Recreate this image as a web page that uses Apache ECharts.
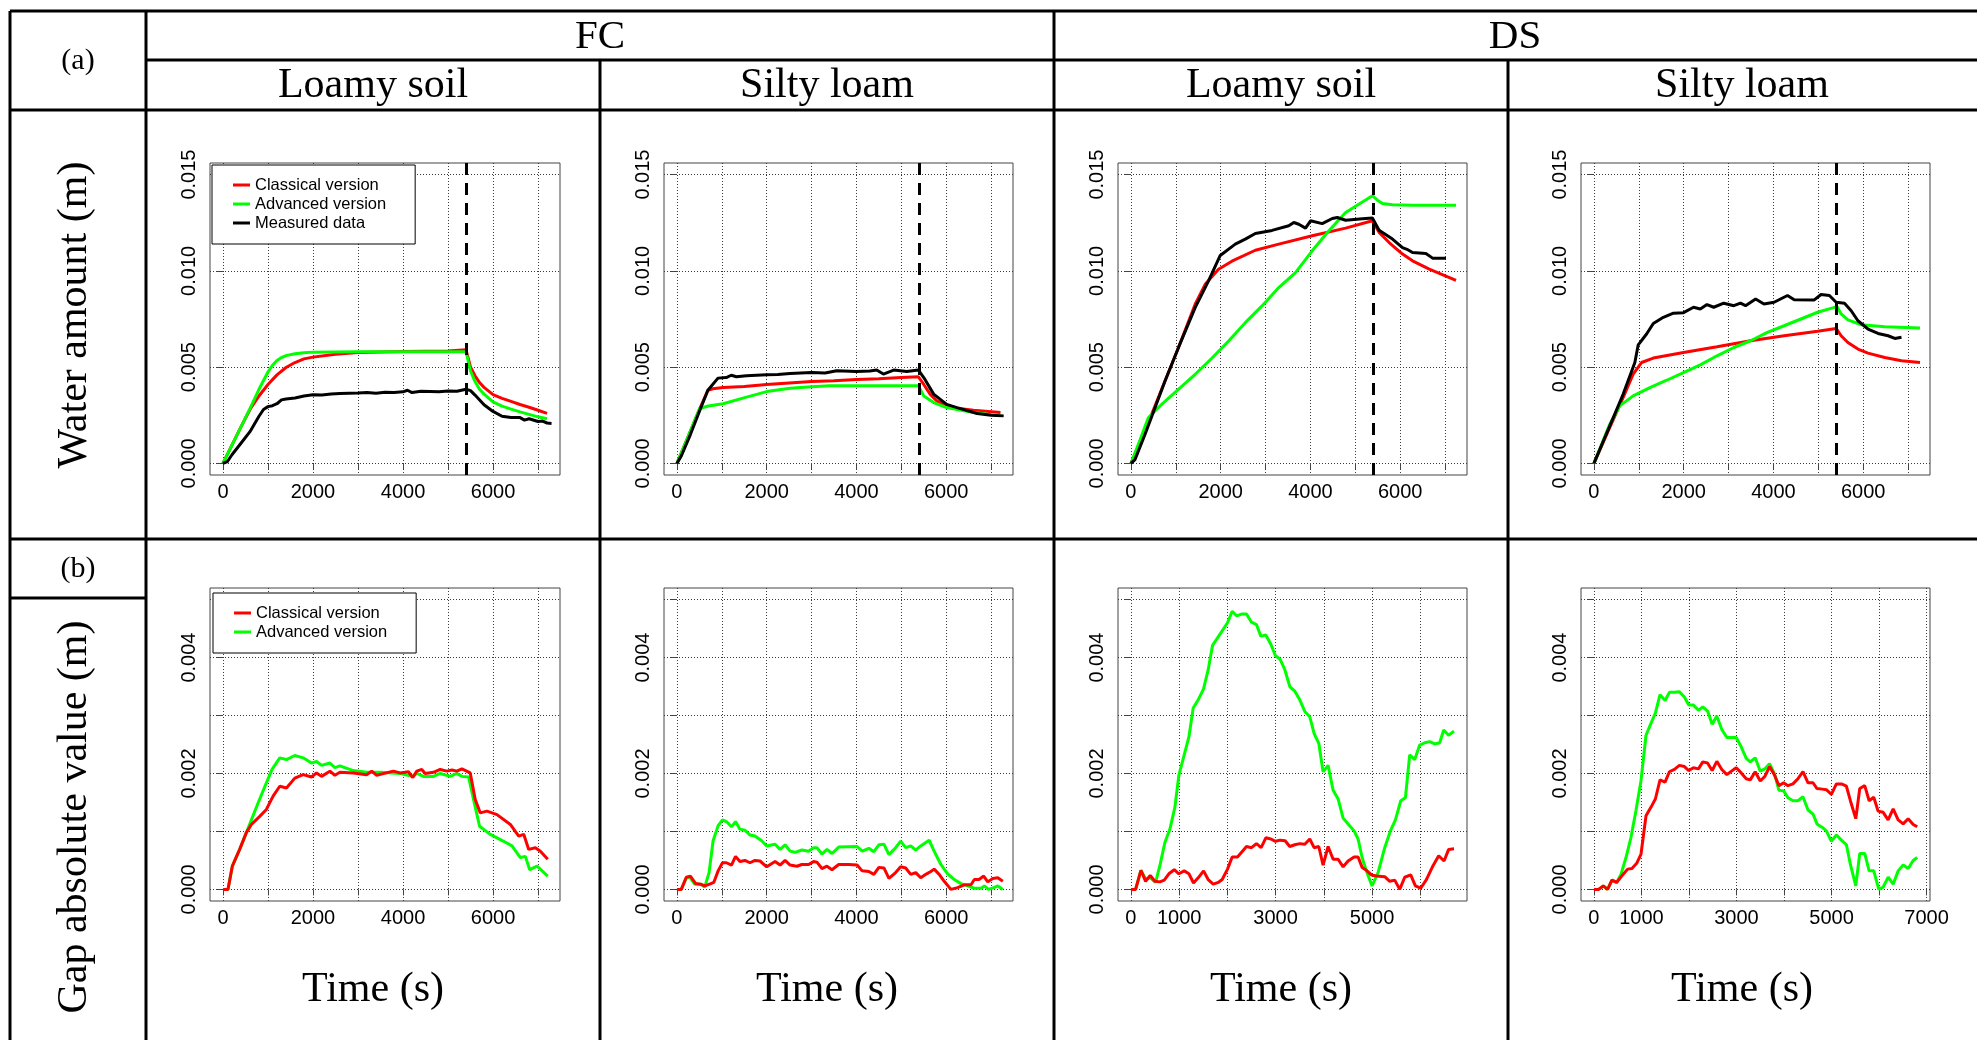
<!DOCTYPE html>
<html>
<head>
<meta charset="utf-8">
<title>Water amount and gap, FC / DS</title>
<script src="https://cdn.jsdelivr.net/npm/echarts@6/dist/echarts.min.js"></script>
<style>
  html, body { margin: 0; padding: 0; background: #fff; }
  #chart { width: 1977px; height: 1040px; }
</style>
</head>
<body>
<div id="chart"></div>
<script>
// ---------- series names and tick labels ----------
const seriesNames = ['Classical version', 'Advanced version', 'Measured data'];
const groupTitles = ['FC', 'DS'];
const soilTitles = ['Loamy soil', 'Silty loam', 'Loamy soil', 'Silty loam'];
const rowTags = ['(a)', '(b)'];
const rowTitles = ['Water amount (m)', 'Gap absolute value (m)'];
const timeTitle = 'Time (s)';

const timeTicks = [0, 1000, 2000, 3000, 4000, 5000, 6000, 7000];
const timeLabelsEven = [0, 2000, 4000, 6000];
const timeLabelsOdd = [0, 1000, 3000, 5000];
const timeLabelsOddTo7000 = [0, 1000, 3000, 5000, 7000];
const waterTicks = [0, 0.005, 0.010, 0.015];
const gapTicks = [0, 0.001, 0.002, 0.003, 0.004, 0.005];
const gapLabels = [0, 0.002, 0.004];

// time at which the water supply stops (s)
const shutoffTime = 5400;

// ---------- (a) water amount, [time s, water m] ----------
const fcLoamyClassical = [[0,0],[200,0.00095],[400,0.0019],[600,0.0028],[800,0.0035],[1000,0.0041],[1200,0.0046],[1400,0.00498],[1600,0.00524],[1800,0.00543],[2000,0.00552],[2500,0.00567],[3000,0.00576],[4000,0.00581],[5000,0.00584],[5400,0.0059],[5500,0.0050],[5600,0.00455],[5700,0.0042],[5800,0.00395],[6000,0.00357],[6200,0.00338],[6400,0.00322],[6600,0.00306],[6800,0.00292],[7000,0.00276],[7200,0.0026]];
const fcLoamyAdvanced = [[0,0],[200,0.00095],[400,0.0019],[600,0.00285],[800,0.00385],[1000,0.00475],[1100,0.0051],[1200,0.00535],[1300,0.0055],[1400,0.0056],[1600,0.0057],[1800,0.00575],[2000,0.00578],[3000,0.0058],[4000,0.0058],[5000,0.0058],[5400,0.0058],[5500,0.0048],[5600,0.00425],[5700,0.00385],[5800,0.0036],[6000,0.0032],[6200,0.00298],[6400,0.00282],[6600,0.00268],[6800,0.00255],[7000,0.00242],[7200,0.00232]];
const fcLoamyMeasured = [[0,0],[100,0.0001],[200,0.00045],[400,0.00105],[600,0.00165],[800,0.00245],[900,0.0028],[1000,0.00295],[1100,0.003],[1200,0.0031],[1300,0.0033],[1400,0.00335],[1600,0.0034],[1800,0.0035],[2000,0.00357],[2200,0.00355],[2400,0.0036],[2600,0.00363],[2800,0.00365],[3000,0.00366],[3200,0.00368],[3400,0.00365],[3600,0.0037],[3800,0.00368],[4000,0.00372],[4100,0.0038],[4200,0.00368],[4400,0.00375],[4600,0.00374],[4800,0.00372],[5000,0.00376],[5200,0.00375],[5400,0.00385],[5500,0.00378],[5600,0.00355],[5800,0.00305],[6000,0.0027],[6200,0.00245],[6400,0.00238],[6600,0.00238],[6700,0.00225],[6800,0.00232],[7000,0.00218],[7100,0.0022],[7200,0.0021],[7300,0.00208]];

const fcSiltyClassical = [[0,0],[250,0.0014],[500,0.0028],[690,0.0038],[800,0.00388],[1030,0.00394],[1500,0.0040],[2000,0.0041],[2500,0.00418],[3000,0.00425],[3500,0.0043],[4000,0.00436],[4500,0.0044],[5000,0.00446],[5380,0.0045],[5500,0.0041],[5640,0.0036],[5790,0.00325],[6010,0.003],[6240,0.00286],[6610,0.00276],[7210,0.00264]];
const fcSiltyAdvanced = [[0,0],[250,0.0014],[505,0.00285],[700,0.00298],[1030,0.0031],[1510,0.00342],[2000,0.00373],[2520,0.0039],[3000,0.00398],[3400,0.00403],[4000,0.00403],[5380,0.00403],[5500,0.0035],[5720,0.00316],[6010,0.0029],[6610,0.00264],[7210,0.00247]];
const fcSiltyMeasured = [[0,0],[100,0.0004],[300,0.0015],[500,0.0027],[690,0.0038],[915,0.00443],[1100,0.00446],[1210,0.00458],[1325,0.0045],[1550,0.00455],[2000,0.0046],[2250,0.00462],[2520,0.00467],[3000,0.00472],[3300,0.0047],[3560,0.00481],[4000,0.00477],[4300,0.0048],[4450,0.00485],[4600,0.00464],[4830,0.00485],[5120,0.00477],[5380,0.00485],[5500,0.00446],[5720,0.0036],[6010,0.00307],[6240,0.0029],[6690,0.00259],[7000,0.0025],[7280,0.00247]];

const dsLoamyClassical = [[0,0],[313,0.00168],[685,0.00385],[1058,0.00601],[1431,0.00827],[1654,0.0093],[1952,0.01008],[2250,0.0105],[2772,0.01107],[3294,0.01139],[4039,0.01182],[4784,0.01222],[5380,0.0126],[5529,0.012],[5753,0.01147],[6051,0.01087],[6274,0.01052],[6647,0.01009],[7243,0.00951]];
const dsLoamyAdvanced = [[0,0],[200,0.0012],[387,0.00237],[685,0.00307],[1058,0.00385],[1431,0.00463],[1803,0.00546],[2176,0.00636],[2548,0.00731],[2921,0.00818],[3294,0.00913],[3666,0.00991],[4039,0.01104],[4411,0.01208],[4784,0.01303],[5380,0.0139],[5492,0.01367],[5604,0.0135],[5827,0.01343],[6274,0.0134],[7243,0.0134]];
const dsLoamyMeasured = [[0,0],[90,0.0002],[313,0.0015],[760,0.00428],[1058,0.00601],[1431,0.00809],[1729,0.00948],[1990,0.0108],[2325,0.01139],[2548,0.01165],[2772,0.01194],[3144,0.0121],[3517,0.01234],[3629,0.01251],[3740,0.01242],[3890,0.01222],[4002,0.0126],[4262,0.01245],[4486,0.01272],[4598,0.01277],[4784,0.01263],[5157,0.0127],[5380,0.01274],[5529,0.01211],[5827,0.01165],[6051,0.01121],[6150,0.01112],[6274,0.01095],[6572,0.0109],[6721,0.01066],[7019,0.01066]];

const dsSiltyClassical = [[0,0],[351,0.00186],[650,0.00342],[874,0.00464],[1061,0.00524],[1323,0.00547],[1996,0.00576],[2743,0.00606],[3490,0.00637],[4238,0.00663],[4985,0.00686],[5396,0.00701],[5508,0.00663],[5658,0.00628],[5882,0.00594],[6106,0.00573],[6480,0.0055],[6853,0.00533],[7265,0.00524]];
const dsSiltyAdvanced = [[0,0],[351,0.00203],[575,0.00299],[874,0.00351],[1248,0.00394],[1622,0.00432],[1996,0.00472],[2370,0.00512],[2743,0.00559],[3117,0.00602],[3490,0.00637],[3864,0.00681],[4238,0.00715],[4611,0.0075],[4985,0.00785],[5418,0.00814],[5508,0.00776],[5658,0.00745],[5957,0.0072],[6480,0.0071],[7265,0.00703]];
const dsSiltyMeasured = [[0,0],[351,0.00194],[650,0.00359],[912,0.00524],[987,0.00616],[1173,0.00672],[1323,0.00727],[1547,0.00759],[1771,0.0078],[1996,0.00783],[2220,0.00811],[2370,0.00802],[2519,0.00825],[2670,0.00811],[2892,0.00832],[3117,0.00819],[3266,0.00832],[3378,0.00819],[3602,0.00854],[3789,0.00828],[4014,0.00837],[4313,0.00872],[4462,0.0085],[4910,0.00849],[5060,0.00877],[5247,0.00872],[5396,0.00837],[5583,0.00832],[5732,0.00793],[5882,0.00741],[6106,0.00698],[6330,0.00675],[6554,0.00663],[6704,0.00649],[6853,0.00655]];

// ---------- (b) gap absolute value, [time s, gap m] ----------
const fcLoamyGapClassical = [[0,0],[111,0],[208,0.0004],[371,0.00069],[520,0.00098],[631,0.00112],[817,0.00126],[965,0.00138],[1114,0.00161],[1262,0.00178],[1411,0.00175],[1596,0.00192],[1782,0.00198],[1967,0.00194],[2079,0.00201],[2190,0.00195],[2376,0.00204],[2487,0.00197],[2598,0.00202],[2895,0.00201],[3192,0.00198],[3304,0.00204],[3415,0.00197],[3786,0.00204],[3935,0.00201],[4120,0.00203],[4217,0.00193],[4306,0.00204],[4417,0.00207],[4491,0.002],[4677,0.00202],[4826,0.00207],[4974,0.00204],[5085,0.00206],[5197,0.00204],[5308,0.00208],[5494,0.00201],[5605,0.00155],[5716,0.00132],[5865,0.00135],[6088,0.00129],[6385,0.00112],[6570,0.00092],[6682,0.00095],[6793,0.00069],[6941,0.00072],[7052,0.00066],[7216,0.00052]];
const fcLoamyGapAdvanced = [[0,0],[111,0],[208,0.0004],[371,0.00069],[520,0.00098],[780,0.00149],[965,0.00184],[1091,0.00207],[1262,0.00227],[1411,0.00224],[1596,0.00231],[1782,0.00227],[1967,0.00218],[2079,0.00221],[2190,0.00214],[2376,0.00218],[2487,0.0021],[2598,0.00213],[2895,0.00205],[3192,0.00202],[3490,0.00202],[3935,0.002],[4217,0.00195],[4306,0.002],[4454,0.00195],[4677,0.00195],[4826,0.002],[5048,0.00195],[5197,0.002],[5308,0.00195],[5457,0.00194],[5568,0.00155],[5701,0.00109],[5939,0.00095],[6236,0.00083],[6422,0.00075],[6607,0.00055],[6719,0.00057],[6815,0.00034],[6978,0.0004],[7216,0.00023]];

const fcSiltyGapClassical = [[0,0],[97,0],[209,0.00021],[299,0.00023],[418,0.0001],[530,0.00009],[619,0.00006],[731,0.00009],[821,0.00012],[918,0.00032],[1015,0.00046],[1104,0.00046],[1216,0.00042],[1306,0.00057],[1403,0.00048],[1515,0.0005],[1627,0.00046],[1739,0.0005],[1851,0.00049],[2000,0.00039],[2187,0.00048],[2299,0.00042],[2410,0.0005],[2522,0.00042],[2672,0.0004],[2784,0.00043],[2933,0.00043],[3045,0.00048],[3119,0.00047],[3231,0.00036],[3343,0.0004],[3455,0.00034],[3604,0.00043],[3828,0.00043],[4015,0.00042],[4127,0.00032],[4276,0.00031],[4388,0.00026],[4500,0.00038],[4612,0.00037],[4724,0.00019],[4873,0.00029],[4985,0.00039],[5097,0.00037],[5209,0.00026],[5321,0.00029],[5433,0.0002],[5545,0.00026],[5657,0.00031],[5731,0.00035],[5843,0.00026],[5955,0.00014],[6104,0],[6254,0.00003],[6403,0.00008],[6552,0.00008],[6627,0.00017],[6731,0.00017],[6836,0.00023],[6925,0.00013],[7037,0.00019],[7149,0.0002],[7261,0.00014]];
const fcSiltyGapAdvanced = [[0,0],[97,0],[209,0.0002],[299,0.0002],[396,0.00009],[530,0.00009],[619,0.00004],[716,0.00029],[806,0.00084],[918,0.0011],[1015,0.0012],[1119,0.00116],[1216,0.00108],[1306,0.00117],[1403,0.00104],[1515,0.00102],[1627,0.00094],[1739,0.00092],[1888,0.00084],[2000,0.00075],[2187,0.00078],[2299,0.00069],[2410,0.00077],[2522,0.00066],[2634,0.00064],[2784,0.00068],[2933,0.00066],[3045,0.00072],[3119,0.00072],[3231,0.00061],[3343,0.00069],[3455,0.00062],[3604,0.00073],[4015,0.00074],[4127,0.00066],[4276,0.00071],[4388,0.00065],[4500,0.00077],[4612,0.00078],[4724,0.0006],[4873,0.00072],[4985,0.00083],[5097,0.00072],[5209,0.00075],[5321,0.00068],[5433,0.00075],[5619,0.00085],[5731,0.00066],[5881,0.00043],[6030,0.00027],[6179,0.00017],[6328,0.0001],[6478,0.00006],[6627,0.00002],[6776,0.00002],[6851,0.00006],[6940,0],[7060,0.00003],[7149,0.00006],[7261,0]];

const dsLoamyGapClassical = [[0,0],[97,0],[207,0.00033],[304,0.00014],[400,0.00024],[497,0.00014],[600,0.00013],[691,0.00016],[787,0.00027],[898,0.00034],[994,0.00027],[1105,0.00032],[1202,0.00027],[1298,0.00011],[1395,0.0002],[1506,0.00032],[1602,0.00017],[1706,0.00009],[1810,0.00012],[1892,0.00017],[2003,0.00035],[2099,0.00056],[2210,0.00056],[2396,0.00074],[2500,0.00072],[2603,0.00079],[2700,0.00072],[2797,0.00089],[2901,0.00087],[2997,0.00083],[3094,0.00085],[3197,0.00084],[3294,0.00074],[3398,0.00077],[3501,0.00079],[3605,0.00078],[3708,0.00087],[3798,0.00072],[3895,0.00074],[3984,0.00042],[4088,0.00074],[4192,0.00052],[4296,0.00052],[4399,0.00039],[4503,0.00049],[4627,0.00056],[4710,0.00056],[4793,0.00038],[4883,0.00033],[4986,0.00025],[5090,0.00023],[5262,0.00022],[5366,0.00014],[5470,0.00016],[5573,0],[5677,0.00021],[5801,0.00025],[5898,0.00006],[6008,0.00002],[6126,0.00017],[6264,0.00041],[6381,0.00058],[6492,0.00049],[6588,0.00069],[6699,0.0007]];
const dsLoamyGapAdvanced = [[0,0],[97,0],[207,0.00033],[304,0.00018],[400,0.0002],[511,0.00012],[600,0.00041],[704,0.00081],[808,0.00104],[912,0.00142],[994,0.00197],[1105,0.00232],[1202,0.00263],[1291,0.00313],[1395,0.00327],[1506,0.00346],[1602,0.00379],[1692,0.00421],[1796,0.00434],[1892,0.00446],[2003,0.0046],[2099,0.0048],[2189,0.00472],[2293,0.00475],[2396,0.00475],[2500,0.00461],[2603,0.00457],[2693,0.00437],[2797,0.00439],[2901,0.00423],[2997,0.00403],[3094,0.00397],[3191,0.00379],[3294,0.0035],[3398,0.00342],[3501,0.00327],[3605,0.00307],[3708,0.00298],[3798,0.00269],[3895,0.00252],[3984,0.00203],[4088,0.00214],[4192,0.00171],[4296,0.00156],[4399,0.00123],[4503,0.00113],[4627,0.00101],[4710,0.00087],[4793,0.00055],[4883,0.00032],[4999,0.00006],[5124,0.00029],[5262,0.00072],[5380,0.00101],[5484,0.0012],[5594,0.00153],[5691,0.00158],[5780,0.00232],[5884,0.00224],[5987,0.00249],[6091,0.00253],[6195,0.00255],[6298,0.00251],[6402,0.00253],[6485,0.00275],[6588,0.00266],[6699,0.00273]];

const dsSiltyGapClassical = [[0,0],[98,0],[197,0.00006],[288,0],[379,0.00016],[478,0.00012],[604,0.00025],[710,0.00035],[801,0.00036],[900,0.00045],[991,0.00061],[1096,0.00127],[1202,0.00142],[1293,0.00156],[1391,0.00189],[1497,0.00185],[1588,0.00203],[1694,0.00207],[1799,0.00214],[1904,0.00212],[1996,0.00205],[2094,0.0021],[2200,0.00208],[2291,0.0022],[2390,0.00218],[2488,0.00205],[2586,0.00221],[2691,0.00207],[2797,0.00198],[2895,0.00204],[2994,0.0021],[3099,0.00201],[3205,0.00191],[3289,0.00189],[3394,0.00203],[3500,0.00187],[3598,0.00195],[3696,0.00212],[3802,0.00197],[3893,0.00179],[3992,0.00184],[4083,0.00179],[4188,0.00182],[4294,0.00191],[4399,0.00203],[4505,0.00184],[4610,0.00184],[4694,0.00174],[4806,0.00173],[4891,0.00172],[4997,0.00164],[5102,0.00182],[5208,0.00182],[5313,0.00178],[5397,0.00153],[5510,0.00122],[5594,0.00174],[5699,0.00179],[5791,0.00153],[5889,0.00159],[5980,0.00135],[6086,0.00133],[6191,0.0012],[6297,0.00139],[6402,0.0012],[6507,0.00113],[6613,0.00122],[6718,0.00112],[6803,0.00108]];
const dsSiltyGapAdvanced = [[0,0],[98,0],[197,0.00006],[288,0],[379,0.00016],[478,0.00012],[569,0.00026],[675,0.00055],[780,0.0009],[885,0.00136],[991,0.00188],[1096,0.00266],[1202,0.00287],[1293,0.00304],[1391,0.00336],[1497,0.00326],[1588,0.0034],[1694,0.0034],[1799,0.00341],[1904,0.00332],[1996,0.00318],[2094,0.00318],[2200,0.00309],[2291,0.00315],[2396,0.00307],[2488,0.00285],[2586,0.00299],[2691,0.00276],[2797,0.00262],[2895,0.00262],[2994,0.00262],[3099,0.00246],[3205,0.00226],[3289,0.0022],[3394,0.00227],[3500,0.00204],[3598,0.00208],[3696,0.00217],[3802,0.00199],[3893,0.00171],[3992,0.0017],[4083,0.00158],[4188,0.00153],[4294,0.00153],[4399,0.0016],[4505,0.00137],[4610,0.0013],[4694,0.00113],[4806,0.00107],[4891,0.00101],[4997,0.00083],[5102,0.00094],[5208,0.00085],[5313,0.00077],[5397,0.00043],[5510,0.00006],[5594,0.00062],[5699,0.00062],[5791,0.00032],[5889,0.00032],[5994,0],[6086,0.00004],[6191,0.00021],[6297,0.00009],[6402,0.00032],[6507,0.00042],[6613,0.00036],[6718,0.0005],[6803,0.00055]];

// ---------- styling ----------
const COLORS = { classical: '#ff0000', advanced: '#00ff00', measured: '#000000' };
const SERIF = '"Liberation Serif", "Times New Roman", serif';
const SANS = '"Liberation Sans", Arial, Helvetica, sans-serif';

// plot boxes: [left, top, width, height]
const panelBoxes = [
  [210, 163, 350, 312], [664, 163, 349, 312], [1118, 163, 349, 312], [1581, 163, 349, 312],
  [210, 588, 350, 313], [664, 588, 349, 313], [1118, 588, 349, 313], [1581, 588, 349, 313]
];

// per-panel content
const panels = [
  { time: [-288, 7488], timeLabels: timeLabelsEven, kind: 'water',
    lines: [['Classical version', fcLoamyClassical, COLORS.classical], ['Advanced version', fcLoamyAdvanced, COLORS.advanced], ['Measured data', fcLoamyMeasured, COLORS.measured]] },
  { time: [-288, 7488], timeLabels: timeLabelsEven, kind: 'water',
    lines: [['Classical version', fcSiltyClassical, COLORS.classical], ['Advanced version', fcSiltyAdvanced, COLORS.advanced], ['Measured data', fcSiltyMeasured, COLORS.measured]] },
  { time: [-288, 7488], timeLabels: timeLabelsEven, kind: 'water',
    lines: [['Classical version', dsLoamyClassical, COLORS.classical], ['Advanced version', dsLoamyAdvanced, COLORS.advanced], ['Measured data', dsLoamyMeasured, COLORS.measured]] },
  { time: [-288, 7488], timeLabels: timeLabelsEven, kind: 'water',
    lines: [['Classical version', dsSiltyClassical, COLORS.classical], ['Advanced version', dsSiltyAdvanced, COLORS.advanced], ['Measured data', dsSiltyMeasured, COLORS.measured]] },
  { time: [-288, 7488], timeLabels: timeLabelsEven, kind: 'gap',
    lines: [['Advanced version', fcLoamyGapAdvanced, COLORS.advanced], ['Classical version', fcLoamyGapClassical, COLORS.classical]] },
  { time: [-288, 7488], timeLabels: timeLabelsEven, kind: 'gap',
    lines: [['Advanced version', fcSiltyGapAdvanced, COLORS.advanced], ['Classical version', fcSiltyGapClassical, COLORS.classical]] },
  { time: [-268, 6968], timeLabels: timeLabelsOdd, kind: 'gap',
    lines: [['Advanced version', dsLoamyGapAdvanced, COLORS.advanced], ['Classical version', dsLoamyGapClassical, COLORS.classical]] },
  { time: [-272, 7072], timeLabels: timeLabelsOddTo7000, kind: 'gap',
    lines: [['Advanced version', dsSiltyGapAdvanced, COLORS.advanced], ['Classical version', dsSiltyGapClassical, COLORS.classical]] }
];

const gridLineStyle = { color: '#3a3a3a', width: 1, type: [1, 2] };

const grids = [], xAxes = [], yAxes = [], series = [];

panels.forEach((p, i) => {
  const [left, top, width, height] = panelBoxes[i];
  grids.push({ left, top, width, height, show: true, borderColor: '#444', borderWidth: 1, backgroundColor: 'transparent' });

  xAxes.push({
    type: 'value', gridIndex: i, min: p.time[0], max: p.time[1],
    axisLine: { show: false },
    axisTick: { show: true, customValues: timeTicks, length: 6, lineStyle: { color: '#444', width: 1 } },
    axisLabel: { customValues: p.timeLabels, formatter: v => String(v), fontFamily: SANS, fontSize: 20, color: '#000', margin: 7 },
    splitLine: { show: true, lineStyle: gridLineStyle }
  });

  const water = p.kind === 'water';
  yAxes.push({
    type: 'value', gridIndex: i,
    min: water ? -0.0006 : -0.0002,
    max: water ? 0.0156 : 0.0052,
    axisLine: { show: false },
    axisTick: { show: true, customValues: water ? waterTicks : gapTicks, length: 6, lineStyle: { color: '#444', width: 1 } },
    axisLabel: { customValues: water ? waterTicks : gapLabels, formatter: v => v.toFixed(3), rotate: 90,
                 fontFamily: SANS, fontSize: 20, color: '#000', margin: 11 },
    splitLine: { show: true, lineStyle: gridLineStyle }
  });

  p.lines.forEach(([name, data, color], k) => {
    const s = {
      type: 'line', name, data, xAxisIndex: i, yAxisIndex: i,
      showSymbol: false, symbol: 'none', silent: true, clip: true,
      lineStyle: { width: 3, color }, itemStyle: { color },
      z: 3 + k
    };
    if (water && name === 'Measured data') {
      s.markLine = {
        silent: true, symbol: 'none', label: { show: false },
        lineStyle: { color: '#000', width: 3, type: [12, 8] },
        data: [{ xAxis: shutoffTime }]
      };
    }
    series.push(s);
  });
});

// ---------- table frame and headings ----------
const T = 3; // frame line width
const hLine = (x1, x2, y) => ({ type: 'line', shape: { x1, y1: y, x2, y2: y }, style: { stroke: '#000', lineWidth: T }, z: 10 });
const vLine = (x, y1, y2) => ({ type: 'line', shape: { x1: x, y1, x2: x, y2 }, style: { stroke: '#000', lineWidth: T }, z: 10 });
const label = (text, x, y, size, rotate) => ({
  type: 'text', x, y, rotation: rotate ? Math.PI / 2 : 0, z: 10,
  style: { text, font: size + 'px ' + SERIF, fill: '#000',
           textAlign: 'center', textVerticalAlign: 'middle', align: 'center', verticalAlign: 'middle' }
});

const graphics = [
  hLine(10, 1977, 11), hLine(146, 1977, 60), hLine(10, 1977, 110), hLine(10, 1977, 539), hLine(10, 146, 598),
  vLine(10, 11, 1040), vLine(146, 11, 1040), vLine(600, 60, 1040), vLine(1054, 11, 1040), vLine(1508, 60, 1040),
  label(rowTags[0], 78, 61, 30), label(rowTags[1], 78, 569, 30),
  label(groupTitles[0], 600, 37, 41), label(groupTitles[1], 1515, 37, 41),
  label(soilTitles[0], 373, 86, 42), label(soilTitles[1], 827, 86, 42),
  label(soilTitles[2], 1281, 86, 42), label(soilTitles[3], 1742, 86, 42),
  label(rowTitles[0], 75, 315, 42, true), label(rowTitles[1], 75, 817, 42, true),
  label(timeTitle, 373, 990, 42), label(timeTitle, 827, 990, 42),
  label(timeTitle, 1281, 990, 42), label(timeTitle, 1742, 990, 42)
];

const legendBase = {
  orient: 'vertical', icon: 'rect', itemWidth: 17, itemHeight: 3, itemGap: 1,
  padding: [11, 29, 12, 21], backgroundColor: '#fff', borderColor: '#000', borderWidth: 1,
  selectedMode: false, z: 6,
  textStyle: { fontFamily: SANS, fontSize: 16.5, lineHeight: 18, color: '#000' }
};

const chart = echarts.init(document.getElementById('chart'), null, { renderer: 'canvas', devicePixelRatio: 1 });
chart.setOption({
  animation: false,
  backgroundColor: '#fff',
  grid: grids,
  xAxis: xAxes,
  yAxis: yAxes,
  legend: [
    Object.assign({}, legendBase, { left: 212, top: 165, data: seriesNames }),
    Object.assign({}, legendBase, { left: 213, top: 593, data: seriesNames.slice(0, 2) })
  ],
  graphic: { elements: graphics },
  series
});
</script>
</body>
</html>
